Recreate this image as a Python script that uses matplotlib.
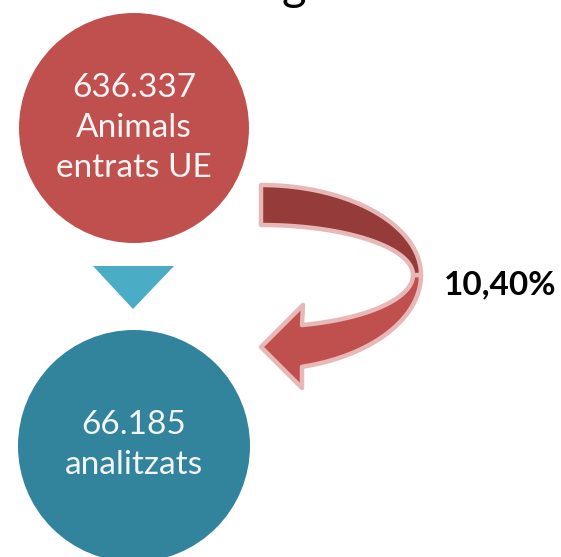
import numpy as np
import matplotlib
matplotlib.use('Agg')
import matplotlib.pyplot as plt
from matplotlib.patches import Circle, Polygon

# dades
entrats = '636.337'
entrats_txt = ['Animals', 'entrats UE']
analitzats = '66.185'
analitzats_txt = ['analitzats']
percentatge = '10,40%'

vermell = '#C0504D'
vermell_fosc = '#953C3A'
rosa = '#E6B9B8'
blau = '#31849B'
blau_clar = '#4BACC6'

plt.rcParams['font.family'] = ['Lato', 'DejaVu Sans']

fig = plt.figure(figsize=(5.61, 5.57), dpi=100)
ax = fig.add_axes([0, 0, 1, 1])
ax.set_xlim(0, 561)
ax.set_ylim(557, 0)
ax.set_aspect('equal')
ax.axis('off')

# cercles
ax.add_patch(Circle((134, 128), 115, color=vermell, lw=0))
ax.add_patch(Circle((134, 446), 116, color=blau, lw=0))

# triangle
ax.add_patch(Polygon([(93, 266), (174, 266), (133, 309)], closed=True, color=blau_clar, lw=0))

def text_cercle(x, y0, linies):
    for i, t in enumerate(linies):
        ax.text(x, y0 + i * 40, t, color='#F4F4F4', fontsize=24,
                ha='center', va='center')

text_cercle(134, 88, [entrats] + entrats_txt)
text_cercle(134, 425, [analitzats] + analitzats_txt)

# fletxa corbada
cx, cy = 261, 275
th = np.linspace(np.pi / 2, 0, 60)
outer_top = np.column_stack([cx + 160 * np.cos(th), cy - 90 * np.sin(th)])
inner_top = np.column_stack([cx + 152 * np.cos(th), cy - 50 * np.sin(th)])
dark = np.vstack([outer_top, inner_top[::-1]])

th2 = np.linspace(0, np.arccos(41 / 152), 60)
inner_bot = np.column_stack([cx + 152 * np.cos(th2), cy + 52 * np.sin(th2)])
th3 = np.linspace(0, np.arccos(41 / 160), 60)
outer_bot = np.column_stack([cx + 160 * np.cos(th3), cy + 95 * np.sin(th3)])
head = np.array([(303, 305), (261, 347), (302, 388)])
light = np.vstack([inner_bot, head, outer_bot[::-1]])

ax.add_patch(Polygon(light, closed=True, facecolor=vermell, edgecolor=rosa,
                     lw=3.2, joinstyle='round'))
ax.add_patch(Polygon(dark, closed=True, facecolor=vermell_fosc, edgecolor=rosa,
                     lw=3.2, joinstyle='round'))

ax.text(500, 285, percentatge, fontsize=24, fontweight='bold', color='black',
        ha='center', va='center')

# resta del títol tallat (només es veu la part de baix)
ax.text(294, 8, 'g', fontsize=34, color='black', ha='center', va='bottom')

fig.savefig('out.png', dpi=100)
